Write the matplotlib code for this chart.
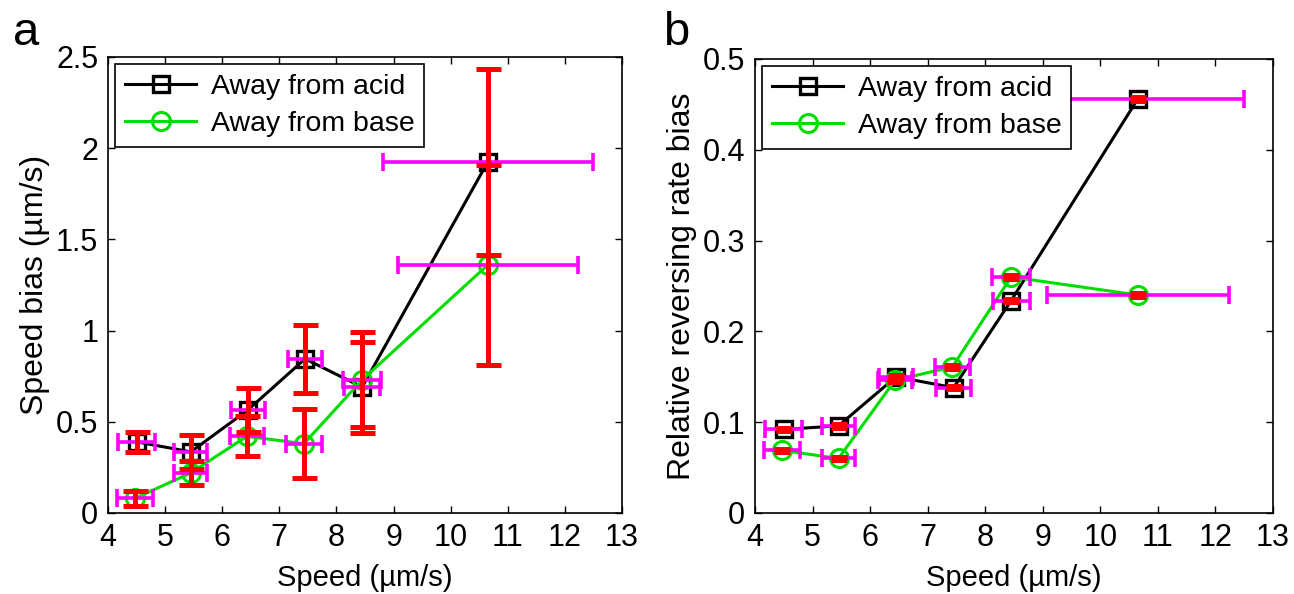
import matplotlib
matplotlib.use('Agg')
import matplotlib.pyplot as plt

plt.rcParams['font.family'] = ['Liberation Sans', 'DejaVu Sans']

# speed bins (same for both panels)
speed_acid = [4.5, 5.45, 6.45, 7.45, 8.45, 10.65]
speed_base = [4.47, 5.45, 6.43, 7.43, 8.45, 10.65]
speed_err_acid = [0.32, 0.29, 0.30, 0.30, 0.32, 1.84]
speed_err_base = [0.31, 0.29, 0.30, 0.31, 0.33, 1.58]

# panel a: speed bias
bias_acid = [0.39, 0.335, 0.565, 0.845, 0.69, 1.925]
bias_acid_err = [0.055, 0.095, 0.12, 0.185, 0.25, 0.51]
bias_base = [0.08, 0.22, 0.42, 0.38, 0.73, 1.36]
bias_base_err = [0.04, 0.065, 0.11, 0.19, 0.26, 0.55]

# panel b: relative reversing rate bias
rev_acid = [0.092, 0.096, 0.150, 0.138, 0.234, 0.456]
rev_base = [0.069, 0.060, 0.146, 0.161, 0.260, 0.240]
rev_err = [0.002, 0.002, 0.002, 0.002, 0.002, 0.002]

xticks = [4, 5, 6, 7, 8, 9, 10, 11, 12, 13]

fig = plt.figure(figsize=(12.94, 5.94), dpi=100)
ax1 = fig.add_axes([0.0835, 0.1364, 0.3972, 0.7677])
ax2 = fig.add_axes([0.5835, 0.1364, 0.4003, 0.7643])


def draw(ax, ya, yea, yb, yeb, red_cap):
    ax.plot(speed_acid, ya, '-s', color='k', lw=2.2, ms=11, mfc='none',
            mew=2.4, label='Away from acid', zorder=2)
    ax.plot(speed_base, yb, '-o', color='#00dd00', lw=2.2, ms=13, mfc='none',
            mew=2.2, label='Away from base', zorder=2)
    for xs, ys, xe in [(speed_acid, ya, speed_err_acid), (speed_base, yb, speed_err_base)]:
        ax.errorbar(xs, ys, xerr=xe, fmt='none', ecolor='#ff00ff', elinewidth=2.6,
                    capsize=6.5, capthick=2.6, zorder=3)
    for xs, ys, ye in [(speed_acid, ya, yea), (speed_base, yb, yeb)]:
        ax.errorbar(xs, ys, yerr=ye, fmt='none', ecolor='#ff0000', elinewidth=3.6,
                    capsize=red_cap, capthick=3.6, zorder=4)
    ax.set_xlim(4, 13)
    ax.set_xticks(xticks)
    ax.tick_params(direction='in', top=True, right=True, length=5, width=1,
                   labelsize=22, pad=7)
    for s in ax.spines.values():
        s.set_linewidth(1.2)
    leg = ax.legend(loc='upper left', fontsize=20.5, frameon=True, fancybox=False,
                    edgecolor='k', framealpha=1, borderaxespad=0.25,
                    handlelength=2.5, borderpad=0.35, labelspacing=0.4,
                    handletextpad=0.5)
    leg.get_frame().set_linewidth(1.2)
    leg.set_zorder(5)
    ax.set_xlabel('Speed (\u00b5m/s)', fontsize=21, labelpad=8)


draw(ax1, bias_acid, bias_acid_err, bias_base, bias_base_err, 9)
ax1.set_ylim(0, 2.5)
ax1.set_yticks([0, 0.5, 1, 1.5, 2, 2.5])
ax1.set_yticklabels(['0', '0.5', '1', '1.5', '2', '2.5'])
ax1.set_ylabel('Speed bias (\u00b5m/s)', fontsize=23, labelpad=4)

draw(ax2, rev_acid, rev_err, rev_base, rev_err, 5.5)
ax2.set_ylim(0, 0.5)
ax2.set_yticks([0, 0.1, 0.2, 0.3, 0.4, 0.5])
ax2.set_yticklabels(['0', '0.1', '0.2', '0.3', '0.4', '0.5'])
ax2.set_ylabel('Relative reversing rate bias', fontsize=23, labelpad=4)

fig.text(0.010, 0.925, 'a', fontsize=34)
fig.text(0.512, 0.925, 'b', fontsize=34)

fig.savefig('out.png', dpi=100)
